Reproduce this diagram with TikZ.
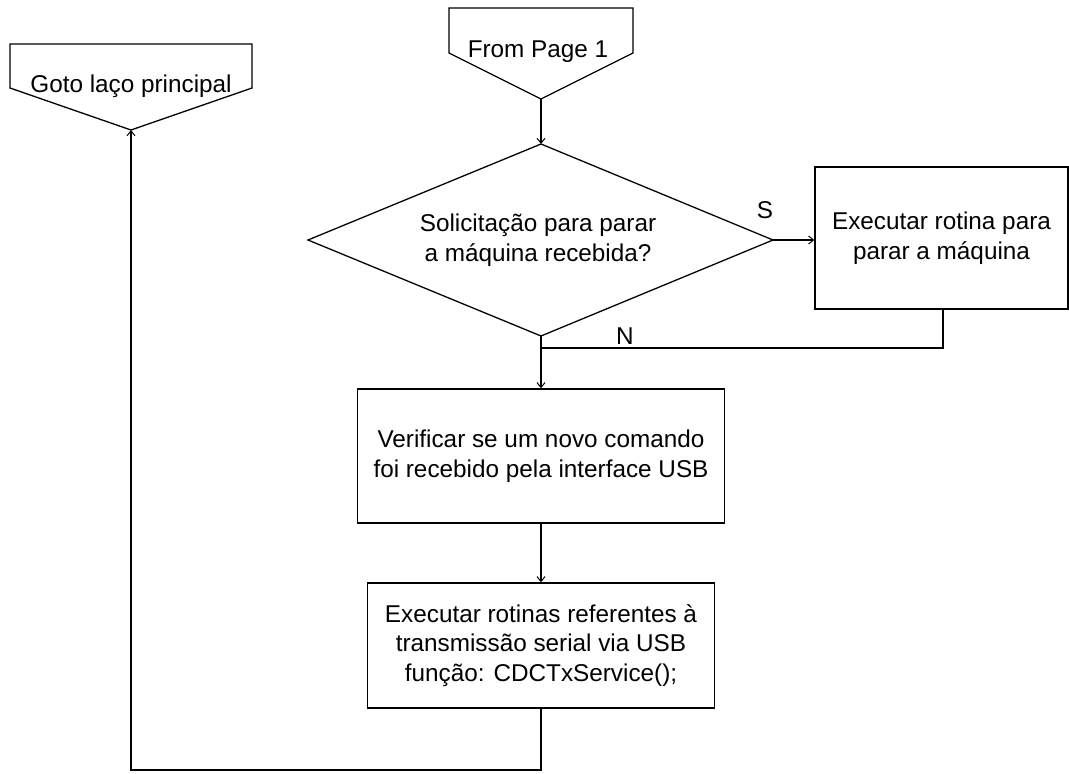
\documentclass[tikz,border=0pt]{standalone}
\usepackage{fontspec}
\setmainfont{Liberation Sans}
\usetikzlibrary{arrows.meta}
\begin{document}
\begin{tikzpicture}[x=1pt,y=-1pt,line width=1.3pt,
  font=\fontsize{24.3}{29.5}\selectfont,
  box/.style={draw,rectangle,align=center,inner sep=0pt},
  arr/.style={-{Straight Barb[length=5pt,width=8pt,line width=1pt]}},
  lbl/.style={inner sep=0pt,align=center}]
\useasboundingbox (0,0) rectangle (1069,774);
% off-page connectors
\draw (10,44) -- (252,44) -- (252,88) -- (131,130) -- (10,88) -- cycle;
\coordinate (gotoPt) at (131,130);
\node[lbl] (gotoTxt) at (131,86) {Goto laço principal};
\draw (449,8) -- (633,8) -- (633,53) -- (541,99) -- (449,53) -- cycle;
\coordinate (fromPt) at (541,99);
\node[lbl] (fromTxt) at (538,52) {From Page 1};
% decision
\coordinate (diaN) at (541,144);
\coordinate (diaE) at (773,240);
\coordinate (diaS) at (541,336);
\coordinate (diaW) at (308,240);
\draw (diaN) -- (diaE) -- (diaS) -- (diaW) -- cycle;
\node[lbl] (diaTxt) at (538,240) {Solicitação para parar\\a máquina recebida?};
% boxes
\node[box,minimum width=253pt,minimum height=142pt] (box1) at (941.5,238)
  {Executar rotina para\\parar a máquina};
\node[box,minimum width=367pt,minimum height=134pt] (box2) at (541,456)
  {Verificar se um novo comando\\foi recebido pela interface USB};
\node[box,minimum width=347pt,minimum height=125pt] (box3) at (541,645.5)
  {Executar rotinas referentes à\\transmissão serial via USB\\função: CDCTxService();};
% labels
\node[lbl] (sLbl) at (765,210) {S};
\node[lbl] (nLbl) at (625,336) {N};
% connectors
\coordinate (b1out) at (943,309);
\coordinate (join) at (541,348);
\coordinate (loopR) at (541,770);
\coordinate (loopL) at (131,770);
\draw[arr] (fromPt) -- (diaN);
\draw[arr] (diaE) -- (diaE -| box1.west);
\draw (b1out) |- (join);
\draw[arr] (diaS) -- (box2.north);
\draw[arr] (box2.south) -- (box3.north);
\draw[arr] (box3.south) -- (loopR) -- (loopL) -- (gotoPt);
\end{tikzpicture}
\end{document}
